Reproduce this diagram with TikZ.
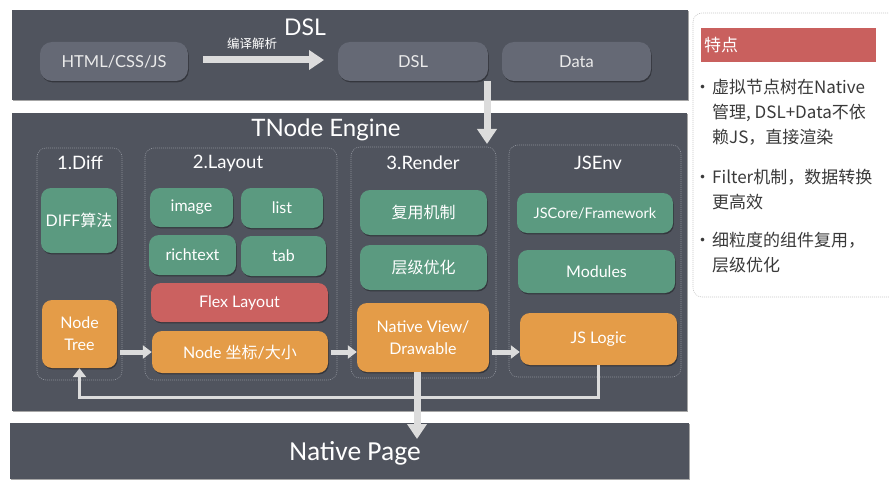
\documentclass[tikz,border=0pt]{standalone}
\usepackage{fontspec}
\setmainfont{Lato}
\newfontfamily\cjk{Noto Sans CJK SC}
\newfontfamily\natfont{Carlito}
\usetikzlibrary{arrows.meta,shadows}
\definecolor{panel}{HTML}{50545E}
\definecolor{dslbox}{HTML}{656975}
\definecolor{grn}{HTML}{5B9A80}
\definecolor{org}{HTML}{E49C48}
\definecolor{redb}{HTML}{CB6160}
\definecolor{arr}{HTML}{DCDCDC}
\definecolor{dashc}{HTML}{8C9099}
\definecolor{sidetxt}{HTML}{3A3A3A}
\definecolor{sidered}{HTML}{C9605E}
\tikzset{
  sh/.style={drop shadow={shadow xshift=0.8pt,shadow yshift=-1.4pt,opacity=0.35,fill=black}},
  panelbox/.style={fill=panel,draw=none,sh,inner sep=0pt},
  dslb/.style={fill=dslbox,draw=none,rounded corners=12pt,sh,text=white!92!black,font=\fontsize{16.5}{19}\selectfont,inner sep=0pt},
  gbox/.style={fill=grn,draw=none,rounded corners=10pt,sh,text=white,font=\fontsize{16}{22}\selectfont,inner sep=0pt,align=center},
  obox/.style={gbox,fill=org},
  rbox/.style={gbox,fill=redb},
  group/.style={draw=dashc,dash pattern=on 1pt off 1pt,line width=0.6pt,rounded corners=9pt,inner sep=0pt},
  ghead/.style={text=white,font=\fontsize{18.5}{21}\selectfont},
  bigarr/.style={draw=arr,line width=7pt,-{Triangle[length=15pt,width=19pt]}},
  smallarr/.style={draw=arr,line width=5pt,-{Triangle[length=9pt,width=13pt]}},
  fbline/.style={draw=arr,line width=3pt,-{Triangle[length=9pt,width=13pt]}},
  sidetext/.style={text=sidetxt,font=\cjk\fontsize{17}{25}\selectfont,align=left,anchor=north west,inner sep=0pt}
}
\begin{document}
\begin{tikzpicture}[x=1pt,y=-1pt]
\useasboundingbox[fill=white] (0,0) rectangle (889,492);

% ---------- DSL panel ----------
\node[panelbox,minimum width=676pt,minimum height=90pt] (dslpanel) at (350,55) {};
\node[text=white,font=\fontsize{23}{26}\selectfont] (dsltitle) at (305,27) {DSL};
\node[dslb,minimum width=148pt,minimum height=39pt] (html) at (114,61.5) {HTML/CSS/JS};
\node[dslb,minimum width=150pt,minimum height=39pt] (dsl) at (413,61.5) {DSL};
\node[dslb,minimum width=149pt,minimum height=39pt] (data) at (576.5,61.5) {Data};
\coordinate (cs) at (203,60);
\coordinate (ce) at (324,60);
\draw[bigarr] (cs) -- (ce);
\node[text=white,font=\cjk\fontsize{12.5}{14}\selectfont] (compile) at (252,44) {编译解析};

% ---------- TNode Engine panel ----------
\node[panelbox,minimum width=675pt,minimum height=298pt] (engine) at (349.5,262) {};
\node[text=white,font=\fontsize{24}{28}\selectfont] (enginetitle) at (326,130) {TNode Engine};

\node[group,minimum width=85pt,minimum height=232pt] (gdiff) at (79.5,264) {};
\node[group,minimum width=192pt,minimum height=232pt] (glayout) at (241,264) {};
\node[group,minimum width=145pt,minimum height=231pt] (grender) at (423.5,262.5) {};
\node[group,minimum width=172pt,minimum height=232pt] (gjs) at (595,261) {};

\node[ghead] (hdiff) at (80,163) {1.Diff};
\node[ghead] (hlayout) at (228,163) {2.Layout};
\node[ghead] (hrender) at (423,163) {3.Render};
\node[ghead] (hjs) at (598,163) {JSEnv};

\node[gbox,minimum width=76pt,minimum height=65pt] (diffalg) at (79,220.5) {DIFF{\cjk 算法}};
\node[obox,minimum width=75pt,minimum height=68pt] (ntree) at (79.5,334) {Node\\Tree};

\node[gbox,minimum width=83pt,minimum height=39pt] (image) at (191.5,207.5) {image};
\node[gbox,minimum width=82pt,minimum height=40pt] (list) at (282,208) {list};
\node[gbox,minimum width=87pt,minimum height=40pt] (richtext) at (192.5,255) {richtext};
\node[gbox,minimum width=85pt,minimum height=40pt] (tab) at (283.5,256) {tab};
\node[rbox,minimum width=177pt,minimum height=39pt] (flex) at (239.5,302.5) {Flex Layout};
\node[obox,minimum width=176pt,minimum height=42pt] (ncoord) at (240,352) {Node {\cjk 坐标}/{\cjk 大小}};

\node[gbox,minimum width=127pt,minimum height=45pt,font=\cjk\fontsize{16}{18}\selectfont] (reuse) at (423.5,212.5) {复用机制};
\node[gbox,minimum width=127pt,minimum height=45pt,font=\cjk\fontsize{16}{18}\selectfont] (level) at (423.5,267.5) {层级优化};
\node[obox,minimum width=132pt,minimum height=69pt] (nview) at (423,337.5) {Native View/\\Drawable};

\node[gbox,minimum width=156pt,minimum height=40pt,font=\fontsize{14.5}{17}\selectfont] (jscore) at (595,213) {JSCore/Framework};
\node[gbox,minimum width=157pt,minimum height=43pt] (modules) at (596.5,271.5) {Modules};
\node[obox,minimum width=157pt,minimum height=52pt] (jslogic) at (598.5,339) {JS Logic};

% ---------- Native Page panel ----------
\node[panelbox,minimum width=679pt,minimum height=56pt] (npage) at (349.5,451) {};
\node[text=white,font=\natfont\fontsize{27.5}{30}\selectfont] (nptext) at (355,453) {Native Page};

% ---------- connectors ----------
\coordinate (dtop) at (487,81);
\coordinate (dtip) at (487,144);
\draw[bigarr] (dtop) -- (dtip);

\draw[smallarr,shorten <=3pt] (ntree.east |- ncoord) -- (ncoord.west);
\draw[smallarr,shorten <=3pt] (ncoord.east) -- (nview.west |- ncoord);
\draw[smallarr,shorten <=3pt] (nview.east |- ncoord) -- (jslogic.west |- ncoord);

\coordinate (fby) at (0,397);
\draw[fbline,rounded corners=0pt] (jslogic.south) |- (ntree.south |- fby) -- (ntree.south);

\coordinate (tipy) at (0,439);
\draw[bigarr] ([xshift=-6pt]nview.south) -- ([xshift=-6pt]nview.south |- tipy);

% ---------- side panel ----------
\node[draw=black!22,dash pattern=on 1pt off 1pt,line width=0.6pt,rounded corners=9pt,minimum width=210pt,minimum height=284pt,inner sep=0pt] (side) at (798,155) {};
\node[fill=sidered,minimum width=175pt,minimum height=34pt,inner sep=0pt] (sidehead) at (788.5,45) {};
\node[text=white,font=\cjk\fontsize{17}{20}\selectfont,anchor=west,inner sep=0pt] (sidetitle) at (704,45) {特点};
\node[sidetext] (b1) at (712,79) {\llap{•\hspace{1pt}}虚拟节点树在Native\\管理, DSL+Data不依\\赖JS，直接渲染};
\node[sidetext] (b2) at (712,169) {\llap{•\hspace{1pt}}Filter机制，数据转换\\更高效};
\node[sidetext] (b3) at (712,232) {\llap{•\hspace{1pt}}细粒度的组件复用，\\层级优化};
\end{tikzpicture}
\end{document}
